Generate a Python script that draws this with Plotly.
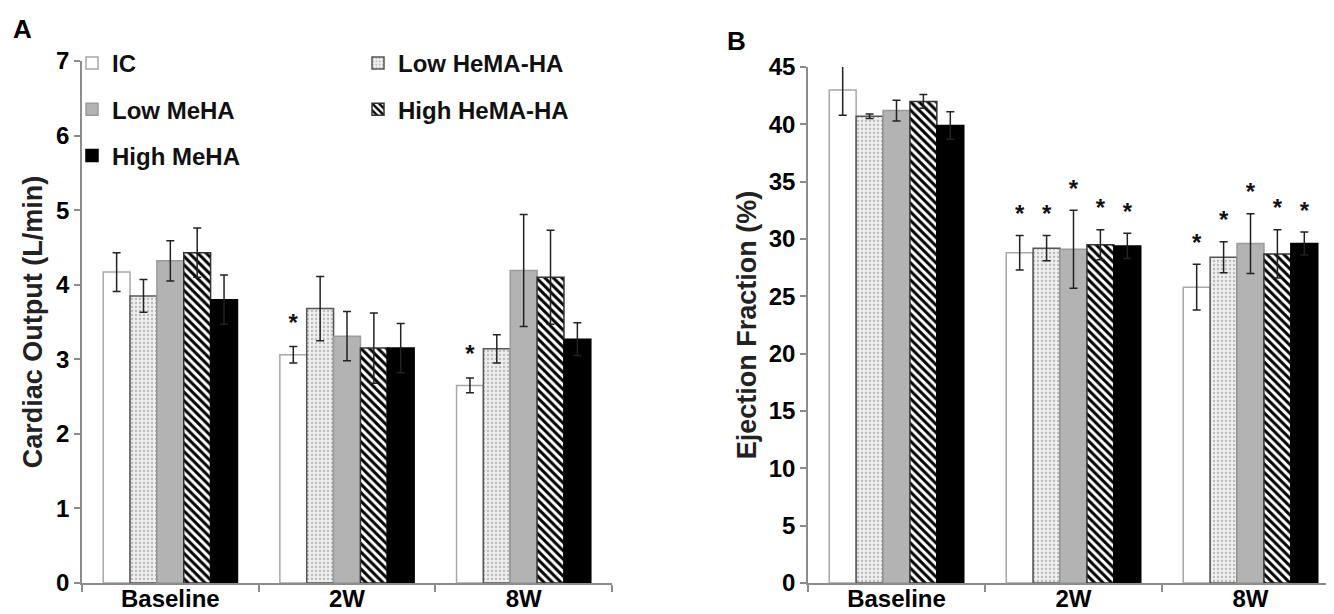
import plotly.graph_objects as go

# ---------------- data ----------------
timepoints = ["Baseline", "2W", "8W"]
series_names = ["IC", "Low HeMA-HA", "Low MeHA", "High HeMA-HA", "High MeHA"]

# Panel A: Cardiac Output (L/min)
co_ic = [4.17, 3.06, 2.65]
co_ic_err = [0.26, 0.11, 0.10]
co_low_hema = [3.85, 3.68, 3.14]
co_low_hema_err = [0.22, 0.43, 0.19]
co_low_meha = [4.32, 3.31, 4.19]
co_low_meha_err = [0.27, 0.33, 0.75]
co_high_hema = [4.43, 3.15, 4.10]
co_high_hema_err = [0.33, 0.47, 0.63]
co_high_meha = [3.80, 3.15, 3.27]
co_high_meha_err = [0.33, 0.33, 0.22]

# Panel B: Ejection Fraction (%)
ef_ic = [43.0, 28.8, 25.8]
ef_ic_err = [2.2, 1.5, 2.0]
ef_low_hema = [40.7, 29.2, 28.4]
ef_low_hema_err = [0.2, 1.1, 1.35]
ef_low_meha = [41.2, 29.1, 29.6]
ef_low_meha_err = [0.9, 3.4, 2.6]
ef_high_hema = [42.0, 29.5, 28.7]
ef_high_hema_err = [0.6, 1.3, 2.1]
ef_high_meha = [39.9, 29.4, 29.6]
ef_high_meha_err = [1.2, 1.1, 1.0]

# significance markers (*)
co_sig_ic = [False, True, True]
co_sig_low_hema = [False, False, False]
co_sig_low_meha = [False, False, False]
co_sig_high_hema = [False, False, False]
co_sig_high_meha = [False, False, False]
ef_sig_all = [False, True, True]

co_yticks = [0, 1, 2, 3, 4, 5, 6, 7]
ef_yticks = [0, 5, 10, 15, 20, 25, 30, 35, 40, 45]

# ---------------- styles ----------------
styles = {
    "IC": dict(color="white", line=dict(color="#a8a8a8", width=1.5), pattern=None),
    "Low HeMA-HA": dict(color="#ececec", line=dict(color="#555555", width=1.5),
                        pattern=dict(shape=".", fgcolor="#b8b8b8", bgcolor="#eeeeee", size=4, solidity=0.25)),
    "Low MeHA": dict(color="#b3b3b3", line=dict(color="#9a9a9a", width=1.5), pattern=None),
    "High HeMA-HA": dict(color="white", line=dict(color="#333333", width=1.5),
                         pattern=dict(shape="\\", fgcolor="black", bgcolor="white", size=6, solidity=0.5)),
    "High MeHA": dict(color="black", line=dict(color="black", width=1.5), pattern=None),
}
legend_of = {"IC": "legend", "Low MeHA": "legend", "High MeHA": "legend",
             "Low HeMA-HA": "legend2", "High HeMA-HA": "legend2"}

FONT = "Arial, Liberation Sans, sans-serif"
co_data = [(co_ic, co_ic_err, co_sig_ic), (co_low_hema, co_low_hema_err, co_sig_low_hema),
           (co_low_meha, co_low_meha_err, co_sig_low_meha), (co_high_hema, co_high_hema_err, co_sig_high_hema),
           (co_high_meha, co_high_meha_err, co_sig_high_meha)]
ef_data = [(ef_ic, ef_ic_err, ef_sig_all), (ef_low_hema, ef_low_hema_err, ef_sig_all),
           (ef_low_meha, ef_low_meha_err, ef_sig_all), (ef_high_hema, ef_high_hema_err, ef_sig_all),
           (ef_high_meha, ef_high_meha_err, ef_sig_all)]

fig = go.Figure()

def add_panel(data, xa, ya, show_legend, star_offset):
    for name, (mean, err, sig) in zip(series_names, data):
        st = styles[name]
        marker = dict(color=st["color"], line=st["line"])
        if st["pattern"] is not None:
            marker["pattern"] = st["pattern"]
        fig.add_trace(go.Bar(
            x=timepoints, y=mean, name=name, xaxis=xa, yaxis=ya,
            marker=marker, offsetgroup=name,
            error_y=dict(type="data", array=err, color="#222222", thickness=1.5, width=4),
            showlegend=show_legend, legend=legend_of[name], legendgroup=name,
            hoverinfo="skip",
        ))
    for name, (mean, err, sig) in zip(series_names, data):
        ys = [m + e + star_offset if s else None for m, e, s in zip(mean, err, sig)]
        fig.add_trace(go.Scatter(
            x=timepoints, y=ys, mode="text", text=["*"] * len(ys), textposition="middle center",
            textfont=dict(family=FONT, size=24, color="#111111", weight="bold"),
            xaxis=xa, yaxis=ya, showlegend=False, offsetgroup=name, hoverinfo="skip",
        ))

add_panel(co_data, "x", "y", True, 0.29)
add_panel(ef_data, "x2", "y2", False, 1.7)

W, H = 1334, 614
OFF = 8  # the page body adds an 8px margin around the figure


def fx(p):
    return (p - OFF) / W


def fy(p):
    return 1 - (p - OFF) / H


tickfont = dict(family=FONT, size=24, color="black", weight="bold")
axis_common = dict(showline=True, linecolor="#8c8c8c", linewidth=1.5, ticks="outside",
                   tickcolor="#8c8c8c", tickwidth=1.5, showgrid=False, zeroline=False,
                   tickfont=tickfont, automargin=False)
title_font = dict(family=FONT, size=27, color="#222222", weight="bold")
legend_font = dict(family=FONT, size=24, color="#111111", weight="bold")

fig.update_layout(
    template="none",
    width=W, height=H,
    margin=dict(l=0, r=0, t=0, b=0, autoexpand=False),
    paper_bgcolor="white", plot_bgcolor="white",
    barmode="group", bargap=0.24, bargroupgap=0,
    scattermode="group", scattergap=0.24,
    xaxis=dict(domain=[fx(82), fx(612)], anchor="y", type="category", range=[-0.5, 2.5],
               tickson="boundaries", ticklen=7, ticklabelstandoff=-7, **axis_common),
    yaxis=dict(domain=[fy(583), fy(61)], anchor="x", range=[0, 7], tickvals=co_yticks,
               ticklen=6,
               title=dict(text="Cardiac Output (L/min)", standoff=6, font=title_font),
               **axis_common),
    xaxis2=dict(domain=[fx(808), fx(1339)], anchor="y2", type="category", range=[-0.5, 2.5],
                tickson="boundaries", ticklen=7, ticklabelstandoff=-7, **axis_common),
    yaxis2=dict(domain=[fy(583), fy(67)], anchor="x2", range=[0, 45], tickvals=ef_yticks,
                ticklen=6,
                title=dict(text="Ejection Fraction (%)", standoff=4, font=title_font),
                **axis_common),
    legend=dict(x=fx(72), y=fy(41), xanchor="left", yanchor="top", bgcolor="rgba(0,0,0,0)",
                font=legend_font, tracegroupgap=12, itemwidth=30, orientation="v"),
    legend2=dict(x=fx(358), y=fy(41), xanchor="left", yanchor="top", bgcolor="rgba(0,0,0,0)",
                 font=legend_font, tracegroupgap=12, itemwidth=30, orientation="v"),
    annotations=[
        dict(text="A", x=fx(11), y=fy(12), xref="paper", yref="paper", xanchor="left",
             yanchor="top", showarrow=False, font=dict(family=FONT, size=26, color="black", weight="bold")),
        dict(text="B", x=fx(725), y=fy(24), xref="paper", yref="paper", xanchor="left",
             yanchor="top", showarrow=False, font=dict(family=FONT, size=26, color="black", weight="bold")),
    ],
)

fig.write_html("out.html")
